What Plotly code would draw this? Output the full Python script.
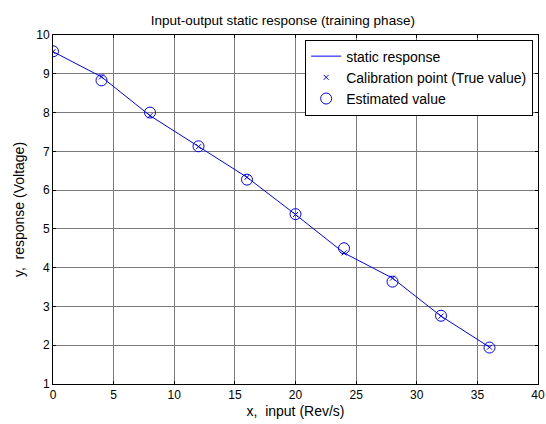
import plotly.graph_objects as go

x_input = [0, 4, 8, 12, 16, 20, 24, 28, 32, 36]
y_calibration = [9.57, 8.92, 7.92, 7.12, 6.33, 5.37, 4.38, 3.73, 2.75, 1.95]
y_estimated = [9.58, 8.83, 8.00, 7.13, 6.27, 5.38, 4.50, 3.64, 2.76, 1.94]
x_ticks = [0, 5, 10, 15, 20, 25, 30, 35, 40]
y_ticks = [1, 2, 3, 4, 5, 6, 7, 8, 9, 10]

blue = "#0000FF"
fig = go.Figure()
fig.add_trace(go.Scatter(x=x_input, y=y_calibration, mode="lines",
                         line=dict(color=blue, width=1), name="static response"))
fig.add_trace(go.Scatter(x=x_input, y=y_calibration, mode="markers",
                         marker=dict(symbol="x-thin-open", size=5, color=blue,
                                     line=dict(color=blue, width=1)),
                         name="Calibration point (True value)"))
fig.add_trace(go.Scatter(x=x_input, y=y_estimated, mode="markers",
                         marker=dict(symbol="circle-open", size=11, color=blue,
                                     line=dict(color=blue, width=1)),
                         name="Estimated value"))

axis_common = dict(showline=True, linecolor="black", linewidth=1, mirror="allticks",
                   ticks="inside", ticklen=3, tickcolor="black", automargin=False,
                   showgrid=True, gridcolor="#7a7a7a", gridwidth=1, zeroline=False,
                   tickfont=dict(size=12, color="black"))

fig.update_layout(
    width=546, height=424,
    margin=dict(l=53, r=8, t=35, b=40),
    paper_bgcolor="white", plot_bgcolor="white",
    font=dict(family="Liberation Sans, Arial, sans-serif", size=12, color="black"),
    title=dict(text="Input-output static response (training phase)", x=0.518, xref="container",
               xanchor="center", y=0.953, yanchor="middle",
               font=dict(family="Liberation Sans, Arial, sans-serif", size=13.5, color="black")),
    xaxis=dict(range=[0, 40], tickvals=x_ticks, title=dict(text="x,  input (Rev/s)", standoff=4),
               **axis_common),
    yaxis=dict(range=[1, 10], tickvals=y_ticks, title=dict(text="y,  response (Voltage)", standoff=8),
               **axis_common),
    legend=dict(x=0.99, xanchor="right", y=0.987, yanchor="top", bgcolor="white",
                bordercolor="black", borderwidth=1, font=dict(size=14),
                tracegroupgap=0, itemwidth=30),
    showlegend=True,
)

fig.write_html("out.html", config={"displayModeBar": False},
               post_script="document.body.style.margin='0';")
